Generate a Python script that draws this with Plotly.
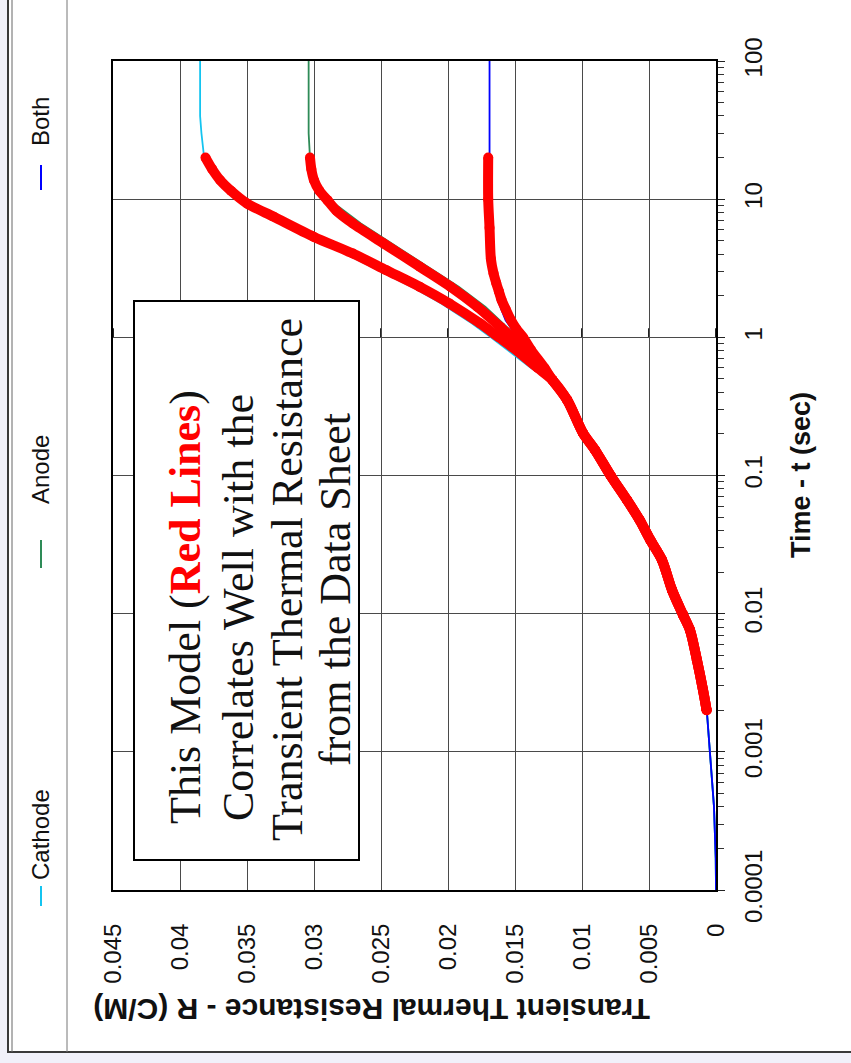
import plotly.graph_objects as go

# ---------------- data ----------------
# Datasheet curves (thin lines): time in seconds, thermal resistance in C/W
t_cathode = [0.0001, 0.00017, 0.0004, 0.001, 0.0019, 0.003, 0.0048, 0.0072, 0.0098,
             0.0148, 0.0244, 0.034, 0.0535, 0.0664, 0.099, 0.153, 0.2, 0.35, 0.49, 0.6, 0.85, 1.0,
             1.26, 1.76, 2.32, 3.06, 4.04, 5.33, 7.45, 9.31, 13.7, 20, 30, 40, 100]
r_cathode = [0.0, 0.00002, 0.00015, 0.00045, 0.00067, 0.00104, 0.00142, 0.00194, 0.00246,
             0.0033, 0.0040, 0.0049, 0.0059, 0.0066, 0.0078, 0.0090, 0.0099, 0.0111, 0.0124, 0.0138,
             0.0158, 0.0168, 0.0182, 0.0205, 0.0227, 0.0252, 0.0277, 0.0305, 0.0334, 0.0353,
             0.0372, 0.0382, 0.0384, 0.0385, 0.0385]

t_anode = [0.0001, 0.00017, 0.0004, 0.001, 0.0019, 0.003, 0.0048, 0.0072, 0.0098,
           0.0148, 0.0244, 0.034, 0.0535, 0.0664, 0.099, 0.153, 0.2, 0.35, 0.49, 0.6, 0.85, 1.0,
           1.19, 1.66, 2.32, 3.24, 4.78, 6.67, 9.84, 13.7, 20, 30, 100]
r_anode = [0.0, 0.00002, 0.00015, 0.00045, 0.00067, 0.00104, 0.00142, 0.00194, 0.00246,
           0.0033, 0.0040, 0.0049, 0.0059, 0.0066, 0.0078, 0.0090, 0.0099, 0.0111, 0.0122, 0.0129,
           0.0140, 0.0148, 0.0156, 0.0172, 0.0192, 0.0215, 0.0242, 0.0265, 0.0288, 0.0300,
           0.0303, 0.0304, 0.0304]

t_both = [0.0001, 0.00017, 0.0004, 0.001, 0.0019, 0.003, 0.0048, 0.0072, 0.0098,
          0.0148, 0.0244, 0.034, 0.0535, 0.0664, 0.099, 0.153, 0.2, 0.35, 0.49, 0.6, 0.81, 1.0,
          1.33, 1.86, 2.47, 2.9, 3.7, 6.2, 10, 20, 100]
r_both = [0.0, 0.00002, 0.00015, 0.00045, 0.00067, 0.00104, 0.00142, 0.00194, 0.00246,
          0.0033, 0.0040, 0.0049, 0.0059, 0.0066, 0.0078, 0.0090, 0.0099, 0.0111, 0.0122, 0.0128,
          0.0140, 0.0148, 0.0157, 0.0163, 0.0166, 0.0167, 0.0168, 0.0169, 0.0169, 0.0169, 0.0169]

# Model results (red), 2 ms .. 20 s
t_model_low = [0.002, 0.0028, 0.0046, 0.0076, 0.0098, 0.0148, 0.0244, 0.0341, 0.0476,
               0.0664, 0.099, 0.153, 0.203, 0.351, 0.49]
r_model_low = [0.00070, 0.00097, 0.00142, 0.00194, 0.00246, 0.00328, 0.00403, 0.00490, 0.00570,
               0.00664, 0.00784, 0.00903, 0.00993, 0.0111, 0.0122]

t_model_cathode = [0.6, 0.85, 1.0, 1.26, 1.76, 2.32, 3.06, 4.04, 5.33, 7.45, 9.31, 11.5, 13.7,
                   16.5, 20]
r_model_cathode = [0.0133, 0.0152, 0.0162, 0.0176, 0.0199, 0.0221, 0.0246, 0.0271, 0.0300,
                   0.0330, 0.0350, 0.0362, 0.0370, 0.0376, 0.0381]

t_model_anode = [0.6, 0.85, 1.0, 1.19, 1.66, 2.32, 3.24, 4.78, 6.67, 8.2, 9.84, 11.5, 13.7,
                 16.5, 20]
r_model_anode = [0.0129, 0.0143, 0.0152, 0.0161, 0.0178, 0.0198, 0.0221, 0.0248, 0.0271,
                 0.0283, 0.0290, 0.0296, 0.0300, 0.0302, 0.0303]

t_model_both = [0.6, 0.81, 1.0, 1.15, 1.33, 1.6, 1.86, 2.15, 2.47, 2.9, 3.7, 6.2, 10, 20]
r_model_both = [0.0128, 0.0138, 0.0144, 0.0149, 0.0153, 0.0157, 0.0160, 0.0162, 0.0164,
                0.0166, 0.0168, 0.0169, 0.0170, 0.0170]

# Axis ticks
r_ticks = [0, 0.005, 0.01, 0.015, 0.02, 0.025, 0.03, 0.035, 0.04, 0.045]
r_tick_labels = ["0", "0.005", "0.01", "0.015", "0.02", "0.025", "0.03", "0.035", "0.04", "0.045"]
t_ticks = [0.0001, 0.001, 0.01, 0.1, 1, 10, 100]
t_tick_labels = ["0.0001", "0.001", "0.01", "0.1", "1", "10", "100"]

legend_names = ["Cathode", "Anode", "Both"]
legend_colors = ["#14c4f0", "#2e8b57", "#0000ff"]

# ---------------- page geometry ----------------
W, H = 851, 1063
ML, MR, MT, MB = 113, 135, 61, 173
PW = W - ML - MR
PH = H - MT - MB


def px_x(px):
    return (px - ML) / PW


def px_y(py):
    return (H - MB - py) / PH


SANS = "Liberation Sans, Arial, sans-serif"
SERIF = "Liberation Serif, Times New Roman, serif"

fig = go.Figure()

# thin datasheet curves
for t, r, c in [(t_cathode, r_cathode, legend_colors[0]),
                (t_anode, r_anode, legend_colors[1]),
                (t_both, r_both, legend_colors[2])]:
    fig.add_trace(go.Scatter(x=r, y=t, mode="lines", line=dict(color=c, width=1.8),
                             showlegend=False, hoverinfo="skip"))

# red model curves
red = "#ff0000"
for t_hi, r_hi in [(t_model_cathode, r_model_cathode),
                   (t_model_anode, r_model_anode),
                   (t_model_both, r_model_both)]:
    fig.add_trace(go.Scatter(x=r_model_low + r_hi, y=t_model_low + t_hi, mode="lines+markers",
                             line=dict(color=red, width=10, shape="spline", smoothing=0.8),
                             marker=dict(color=red, size=10),
                             showlegend=False, hoverinfo="skip"))

shapes = []
# window frame
shapes.append(dict(type="rect", xref="paper", yref="paper", x0=px_x(8), x1=px_x(900),
                   y0=px_y(1052), y1=px_y(-10), fillcolor="white",
                   line=dict(color="#3a3a3a", width=2), layer="below"))
shapes.append(dict(type="line", xref="paper", yref="paper", x0=px_x(12), x1=px_x(12),
                   y0=px_y(1052), y1=px_y(-10), line=dict(color="#666666", width=1)))
shapes.append(dict(type="line", xref="paper", yref="paper", x0=px_x(67), x1=px_x(67),
                   y0=px_y(1052), y1=px_y(-10), line=dict(color="#777777", width=1)))

# tick marks along the R scale at t = 1 s
for i in range(46):
    rv = i * 0.001
    major = i % 5 == 0
    shapes.append(dict(type="line", xref="x", yref="y", ysizemode="pixel", yanchor=1,
                       x0=rv, x1=rv, y0=(9 if major else 0), y1=-7 if major else -6,
                       line=dict(color="#222222", width=2 if major else 1), layer="below"))

# text box
shapes.append(dict(type="rect", xref="paper", yref="paper", x0=px_x(134), x1=px_x(359),
                   y0=px_y(860), y1=px_y(301), fillcolor="white",
                   line=dict(color="black", width=2), layer="above"))

# legend samples
legend_line_y = [(886, 906), (540, 568), (165, 190)]
legend_text_y = [835, 470, 122]
for (ya, yb), c in zip(legend_line_y, legend_colors):
    shapes.append(dict(type="line", xref="paper", yref="paper", x0=px_x(41), x1=px_x(41),
                       y0=px_y(ya), y1=px_y(yb), line=dict(color=c, width=2)))

annotations = []
for name, yc in zip(legend_names, legend_text_y):
    annotations.append(dict(xref="paper", yref="paper", x=px_x(40), y=px_y(yc), text=name,
                            textangle=-90, showarrow=False, xanchor="center", yanchor="middle",
                            font=dict(family=SANS, size=24, color="#111111")))

# axis titles
annotations.append(dict(xref="paper", yref="paper", x=px_x(372), y=px_y(1010),
                        text="<b>Transient Thermal Resistance - R (C/M)</b>", textangle=180,
                        showarrow=False, xanchor="center", yanchor="middle",
                        font=dict(family=SANS, size=30, color="#111111")))
annotations.append(dict(xref="paper", yref="paper", x=px_x(801), y=px_y(475),
                        text="<b>Time - t (sec)</b>", textangle=-90,
                        showarrow=False, xanchor="center", yanchor="middle",
                        font=dict(family=SANS, size=27, color="#111111")))

# text box lines
box_lines = [
    ("This Model (<b><span style='color:#ff0000'>Red Lines</span></b>)", 185, 607),
    ("Correlates Well with the", 238, 608),
    ("Transient Thermal Resistance", 287, 580),
    ("from the Data Sheet", 336, 590),
]
for txt, xc, yc in box_lines:
    annotations.append(dict(xref="paper", yref="paper", x=px_x(xc), y=px_y(yc), text=txt,
                            textangle=-90, showarrow=False, xanchor="center", yanchor="middle",
                            font=dict(family=SERIF, size=44, color="#111111")))

minor_t = [k * 10 ** e for e in range(-4, 2) for k in range(2, 10)]

fig.update_layout(
    width=W, height=H,
    margin=dict(l=ML, r=MR, t=MT, b=MB, pad=0),
    paper_bgcolor="#f1f1fa",
    plot_bgcolor="white",
    showlegend=False,
    shapes=shapes,
    annotations=annotations,
    xaxis=dict(range=[0.045, 0], tickvals=r_ticks, ticktext=r_tick_labels, tickangle=-90,
               showgrid=True, gridcolor="#4a4a4a", gridwidth=1, zeroline=False,
               showline=True, linecolor="black", linewidth=2, mirror=True, ticks="",
               ticklabelstandoff=22,
               tickfont=dict(family=SANS, size=24, color="#111111")),
    yaxis=dict(type="log", range=[-4, 2], side="right", tickvals=t_ticks, ticktext=t_tick_labels,
               tickangle=-90, ticks="outside", ticklen=7, tickcolor="#222222",
               showgrid=True, gridcolor="#4a4a4a", gridwidth=1, zeroline=False,
               showline=True, linecolor="black", linewidth=2, mirror=True,
               ticklabelstandoff=8,
               minor=dict(tickvals=minor_t, ticks="outside", ticklen=6, tickcolor="#333333",
                          showgrid=False),
               tickfont=dict(family=SANS, size=24, color="#111111")),
)

fig.write_html("out.html")
